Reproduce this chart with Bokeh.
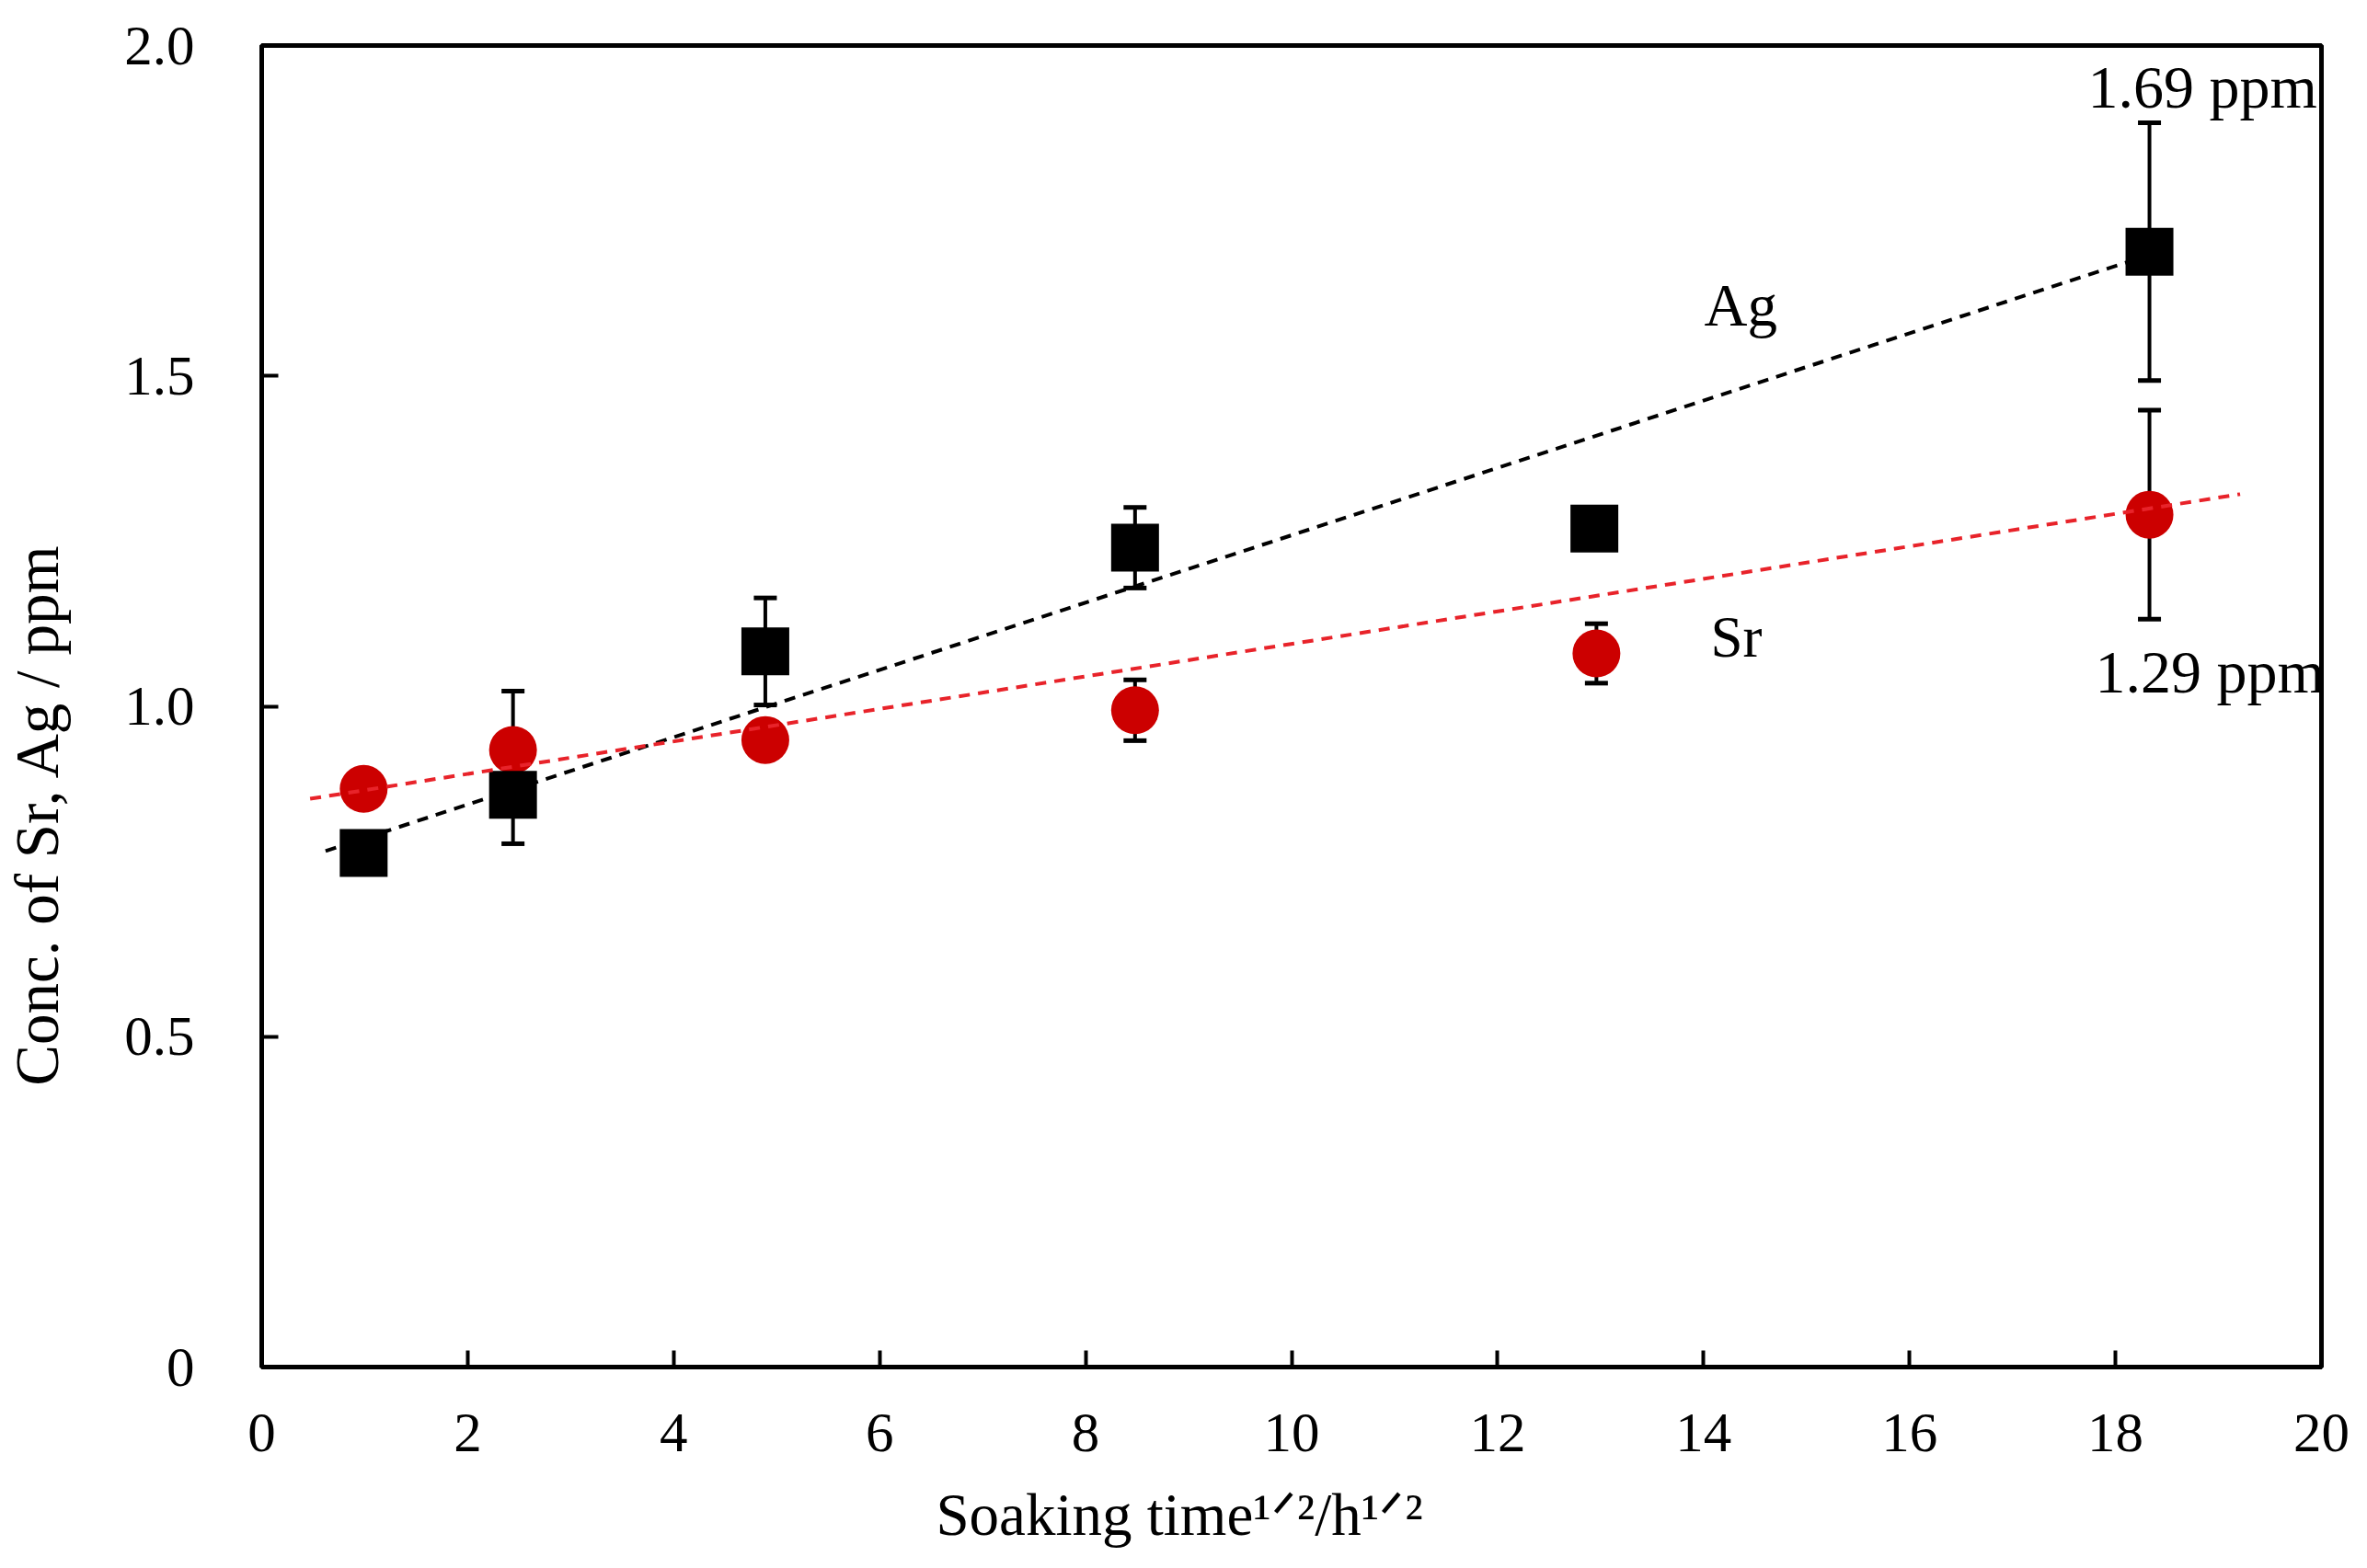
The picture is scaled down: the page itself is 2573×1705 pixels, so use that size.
import math
from bokeh.plotting import figure
from bokeh.models import Range1d, FixedTicker, Label
from bokeh.embed import file_html
from bokeh.resources import INLINE

# ---- data ----
ag_x = [0.99, 2.44, 4.89, 8.48, 12.94, 18.33]
ag_y = [0.778, 0.866, 1.083, 1.240, 1.269, 1.688]
ag_err = [0.02, 0.074, 0.081, 0.061, 0.02, 0.195]

sr_x = [0.99, 2.44, 4.89, 8.48, 12.96, 18.33]
sr_y = [0.875, 0.934, 0.949, 0.994, 1.080, 1.290]
sr_err = [0.02, 0.089, 0.02, 0.046, 0.045, 0.158]

ag_fit_x = [0.62, 18.62]
ag_fit_y = [0.781, 1.698]
sr_fit_x = [0.47, 19.21]
sr_fit_y = [0.860, 1.321]

x_ticks = [0, 2, 4, 6, 8, 10, 12, 14, 16, 18, 20]
y_ticks = [0, 0.5, 1.0, 1.5, 2.0]
y_tick_labels = ["0", "0.5", "1.0", "1.5", "2.0"]

x_title = "Soaking time\u00b9\u141f\u00b2/h\u00b9\u141f\u00b2"
y_title = "Conc. of Sr, Ag / ppm"

FONT = "Liberation Serif"
MARK_RED = "#CC0000"
LINE_RED = "#E8232A"

# frame geometry in page pixels
FL, FT, FW, FH = 282, 49, 2239, 1437
XMAX, YMAX = 20.0, 2.0
TEXT_DY = -21  # baseline correction for labels


def dx(px):
    return (px - FL) / (FW / XMAX)


def dy(py):
    return (FT + FH - py) / (FH / YMAX)


p = figure(frame_width=FW, frame_height=FH,
           min_border_left=FL, min_border_top=FT,
           min_border_right=2557 - FL - FW,
           min_border_bottom=1689 - FT - FH,
           x_range=Range1d(0, XMAX), y_range=Range1d(0, YMAX),
           output_backend="svg", toolbar_location=None,
           background_fill_color="white", border_fill_color="white")

p.grid.visible = False
p.outline_line_color = "black"
p.outline_line_width = 5

for ax in (p.xaxis[0], p.yaxis[0]):
    ax.axis_line_width = 5
    ax.axis_line_color = "black"
    ax.major_tick_in = 18
    ax.major_tick_out = 0
    ax.major_tick_line_width = 4
    ax.major_tick_line_color = "black"
    ax.minor_tick_line_color = None
    ax.major_label_text_font = FONT
    ax.major_label_text_font_size = "61px"
    ax.major_label_text_color = "black"
    ax.axis_label_text_font = FONT
    ax.axis_label_text_font_style = "normal"
    ax.axis_label_text_color = "black"

pad = "\u00a0"
p.xaxis[0].ticker = FixedTicker(ticks=x_ticks)
p.xaxis[0].major_label_standoff = 51
p.xaxis[0].axis_label = x_title + pad * 15
p.xaxis[0].axis_label_text_font_size = "65px"
p.xaxis[0].axis_label_standoff = 30

p.yaxis[0].ticker = FixedTicker(ticks=y_ticks)
p.yaxis[0].major_label_overrides = {t: s for t, s in zip(y_ticks, y_tick_labels)}
p.yaxis[0].major_label_standoff = 73
p.yaxis[0].axis_label = y_title + pad * 14
p.yaxis[0].axis_label_text_font_size = "67px"
p.yaxis[0].axis_label_standoff = 55

# error bars (behind markers)
for xs, ys, es in ((sr_x, sr_y, sr_err), (ag_x, ag_y, ag_err)):
    lo = [y - e for y, e in zip(ys, es)]
    hi = [y + e for y, e in zip(ys, es)]
    p.segment(x0=xs, y0=lo, x1=xs, y1=hi, line_color="black", line_width=4)
    p.dash(x=xs, y=lo, size=25, line_color="black", line_width=5)
    p.dash(x=xs, y=hi, size=25, line_color="black", line_width=5)

# markers
p.scatter(x=sr_x, y=sr_y, marker="circle", size=52, fill_color=MARK_RED,
          line_color=MARK_RED, line_width=0)
p.scatter(x=ag_x, y=ag_y, marker="square", size=52, fill_color="black",
          line_color="black", line_width=0)

# trend lines
p.line(x=ag_fit_x, y=ag_fit_y, line_color="black", line_width=4, line_dash="12 9")
p.line(x=sr_fit_x, y=sr_fit_y, line_color=LINE_RED, line_width=4, line_dash="12 9")


def lab(text, px, py, size):
    p.add_layout(Label(x=dx(px), y=dy(py + TEXT_DY), text=text, text_font=FONT,
                       text_font_size=f"{size}px", text_color="black",
                       text_align="left", text_baseline="alphabetic"))


# annotations
lab("Ag", 1850, 352, 65)
lab("Sr", 1857, 713, 63)
lab("1.69 ppm", 2267, 115, 66)
lab("1.29 ppm", 2275, 751, 66)

open("out.html", "w").write(file_html(p, INLINE))
